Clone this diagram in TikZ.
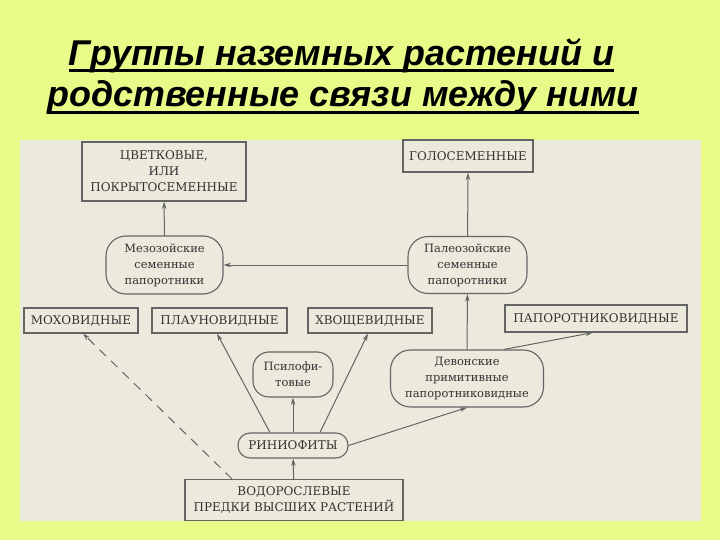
\documentclass[tikz,border=0pt]{standalone}
\usepackage{fontspec}
\setmainfont{DejaVu Serif}
\newfontfamily\titlefont{Liberation Sans}
\usetikzlibrary{arrows.meta}
\definecolor{bglime}{RGB}{232,250,135}
\definecolor{panel}{RGB}{236,233,221}
\definecolor{ink}{RGB}{50,50,50}
\definecolor{edge}{RGB}{100,100,100}
\begin{document}
\begin{tikzpicture}[x=1bp,y=-1bp,
  capsbox/.style={draw=edge, line width=1.1bp, fill=panel, inner sep=0pt, text=ink, align=center, font=\fontsize{12}{16}\selectfont},
  era/.style={draw=edge, line width=1.1bp, fill=panel, rounded corners=20bp, inner sep=0pt, text=ink, align=center, font=\fontsize{11.5}{16}\selectfont},
  link/.style={draw=edge, line width=1bp, -{Stealth[length=7.5bp,width=4.5bp]}},
  titletext/.style={inner sep=0pt, anchor=base, text=black, font=\titlefont\bfseries\itshape\fontsize{36}{40}\selectfont},
]
\fill[bglime] (0,0) rectangle (720,540);
\fill[panel] (20,140) rectangle (701,521);
\useasboundingbox (0,0) rectangle (720,540);

% title
\node[titletext] (t1) at (341.5,66) {Группы наземных растений и};
\node[titletext] (t2) at (343,107) {родственные связи между ними};
\draw[line width=3bp] ([yshift=-5bp]t1.base west) -- ([yshift=-5bp]t1.base east);
\draw[line width=3bp] ([yshift=-6bp]t2.base west) -- ([yshift=-6bp]t2.base east);

% nodes
\node[capsbox, minimum width=164bp, minimum height=59bp] (flow) at (164,171.5) {ЦВЕТКОВЫЕ,\\ИЛИ\\ПОКРЫТОСЕМЕННЫЕ};
\node[capsbox, minimum width=130bp, minimum height=32bp] (gymno) at (468,156) {ГОЛОСЕМЕННЫЕ};
\node[era, minimum width=117bp, minimum height=58bp] (meso) at (164.5,265) {Мезозойские\\семенные\\папоротники};
\node[era, minimum width=119bp, minimum height=57bp] (paleo) at (467.5,265) {Палеозойские\\семенные\\папоротники};
\node[capsbox, minimum width=114bp, minimum height=25bp] (moss) at (81,320.5) {МОХОВИДНЫЕ};
\node[capsbox, minimum width=135bp, minimum height=25bp] (lyco) at (219.5,320.5) {ПЛАУНОВИДНЫЕ};
\node[capsbox, minimum width=124bp, minimum height=25bp] (horse) at (370,320.5) {ХВОЩЕВИДНЫЕ};
\node[capsbox, minimum width=182bp, minimum height=27bp] (fern) at (596,318.5) {ПАПОРОТНИКОВИДНЫЕ};
\node[era, minimum width=80bp, minimum height=45bp, rounded corners=16bp] (psilo) at (293,374.5) {Псилофи-\\товые};
\node[era, minimum width=110bp, minimum height=25bp, rounded corners=12bp, font=\fontsize{12}{16}\selectfont] (rhynia) at (293,445.5) {РИНИОФИТЫ};
\node[era, minimum width=153bp, minimum height=57bp] (devon) at (467,378.5) {Девонские\\примитивные\\папоротниковидные};
\node[capsbox, minimum width=218bp, minimum height=41bp] (algae) at (294,500) {ВОДОРОСЛЕВЫЕ\\ПРЕДКИ ВЫСШИХ РАСТЕНИЙ};

% connectors
\draw[link] (meso) -- (flow);
\draw[link] (paleo) -- (gymno);
\draw[link] (paleo) -- (meso);
\draw[link] (devon) -- (paleo);
\draw[link] (algae) -- (rhynia);
\draw[link] (rhynia) -- (psilo);
\draw[link] ([xshift=-23bp]rhynia.north) -- ([xshift=-2.5bp]lyco.south);
\draw[link] ([xshift=27bp]rhynia.north) -- ([xshift=-2bp]horse.south);
\draw[link] (rhynia.east) -- (devon.south);
\draw[link] ([xshift=37bp]devon.north) -- ([xshift=-3bp]fern.south);
\draw[link, dash pattern=on 9bp off 7bp] ([xshift=-62bp]algae.north) -- ([xshift=2bp]moss.south);
\end{tikzpicture}
\end{document}
